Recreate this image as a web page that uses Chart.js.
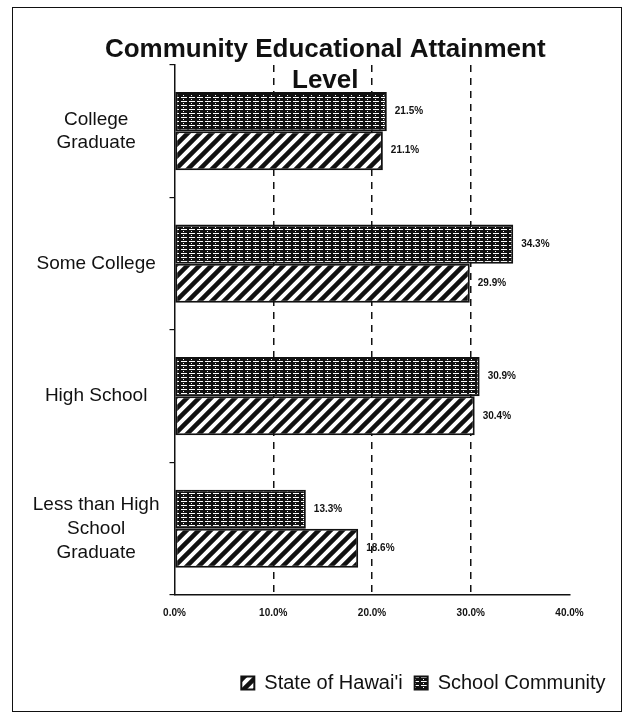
<!DOCTYPE html>
<html>
<head>
<meta charset="utf-8">
<script src="https://cdn.jsdelivr.net/npm/chart.js@4"></script>
<style>
  html, body { margin: 0; padding: 0; background: #fff; }
  #wrap { position: absolute; left: 12px; top: 7px; width: 608px; height: 703px; border: 1.5px solid #111; }
</style>
</head>
<body>
<div id="wrap"><canvas id="graf"></canvas></div>
<script>
// Kategorier och värden (procent)
const categories = [['College', 'Graduate'], 'Some College', 'High School', ['Less than High', 'School', 'Graduate']];
const schoolCommunity = [21.5, 34.3, 30.9, 13.3];
const stateOfHawaii = [21.1, 29.9, 30.4, 18.6];
const xTicks = [0, 10, 20, 30, 40];
const titel = ['Community Educational Attainment', 'Level'];

const font = '"Liberation Sans", Arial, sans-serif';

// Mönster: diagonala streck
function hatch() {
    const c = document.createElement('canvas');
    c.width = 12; c.height = 12;
    const g = c.getContext('2d');
    g.fillStyle = '#fff';
    g.fillRect(0, 0, 12, 12);
    g.strokeStyle = '#111';
    g.lineWidth = 4.5;
    g.beginPath();
    g.moveTo(-6, 6); g.lineTo(6, -6);
    g.moveTo(0, 12); g.lineTo(12, 0);
    g.moveTo(6, 18); g.lineTo(18, 6);
    g.stroke();
    return g.createPattern(c, 'repeat');
}

// Mönster: tät svart med vita streck
function bricks() {
    const c = document.createElement('canvas');
    c.width = 8; c.height = 4;
    const g = c.getContext('2d');
    g.fillStyle = '#111';
    g.fillRect(0, 0, 8, 4);
    g.fillStyle = '#fff';
    g.fillRect(0, 1, 6, 1);
    g.fillRect(2, 3, 1, 1);
    return g.createPattern(c, 'repeat');
}

// Etiketter vid slutet av staplarna
const valueLabels = {
    id: 'valueLabels',
    afterDatasetsDraw(chart) {
        const ctx = chart.ctx;
        ctx.save();
        ctx.font = 'bold 10px ' + font;
        ctx.fillStyle = '#111';
        ctx.textBaseline = 'middle';
        chart.data.datasets.forEach((ds, i) => {
            chart.getDatasetMeta(i).data.forEach((bar, j) => {
                ctx.fillText(ds.data[j].toFixed(1) + '%', bar.x + 8, bar.y);
            });
        });
        ctx.restore();
    }
};

// Flytta titel och förklaring lite åt höger
const shift = {
    id: 'shift',
    afterLayout(chart) {
        chart.titleBlock.left += 34;
        chart.titleBlock.right += 34;
        chart.legend.left += 48;
        chart.legend.right += 48;
    }
};

new Chart(document.querySelector('#graf'), {
    type: 'bar',
    data: {
        labels: categories,
        datasets: [{
            label: 'School Community',
            data: schoolCommunity,
            backgroundColor: bricks(),
            borderColor: '#111',
            borderWidth: 2,
            borderSkipped: false
        }, {
            label: "State of Hawai'i",
            data: stateOfHawaii,
            backgroundColor: hatch(),
            borderColor: '#111',
            borderWidth: 2,
            borderSkipped: false
        }]
    },
    options: {
        indexAxis: 'y',
        responsive: true,
        maintainAspectRatio: false,
        animation: false,
        categoryPercentage: 0.59,
        barPercentage: 1,
        layout: { padding: { left: 0, right: 51.5, top: 0, bottom: 8 } },
        scales: {
            x: {
                min: 0, max: 40,
                afterBuildTicks: s => { s.ticks = xTicks.map(v => ({ value: v })); },
                ticks: {
                    callback: v => v.toFixed(1) + '%',
                    color: '#111',
                    font: { family: font, size: 10, weight: 'bold' },
                    padding: 12
                },
                grid: {
                    color: c => (c.tick && (c.tick.value === 0 || c.tick.value === 40)) ? 'rgba(0,0,0,0)' : '#111',
                    lineWidth: 1.5,
                    drawTicks: false
                },
                border: { display: true, color: '#111', width: 1.5, dash: [7, 6] },
                afterFit: s => { s.height = 66; }
            },
            y: {
                ticks: {
                    color: '#111',
                    crossAlign: 'center',
                    font: { family: font, size: 19, lineHeight: 1.25 },
                    padding: 10
                },
                grid: { drawOnChartArea: false, color: '#111', tickLength: 5, lineWidth: 1.2 },
                border: { display: true, color: '#111', width: 1.5 },
                afterFit: s => { s.width = 161.5; }
            }
        },
        plugins: {
            title: {
                display: true,
                text: titel,
                color: '#111',
                font: { family: font, size: 26, weight: 'bold', lineHeight: 1.2 },
                padding: { top: 26, bottom: -31.5 }
            },
            legend: {
                position: 'bottom',
                align: 'end',
                reverse: true,
                labels: {
                    color: '#111',
                    boxWidth: 13,
                    boxHeight: 13,
                    padding: 12,
                    font: { family: font, size: 20 }
                }
            },
            tooltip: { enabled: false }
        }
    },
    plugins: [valueLabels, shift]
});
</script>
</body>
</html>
